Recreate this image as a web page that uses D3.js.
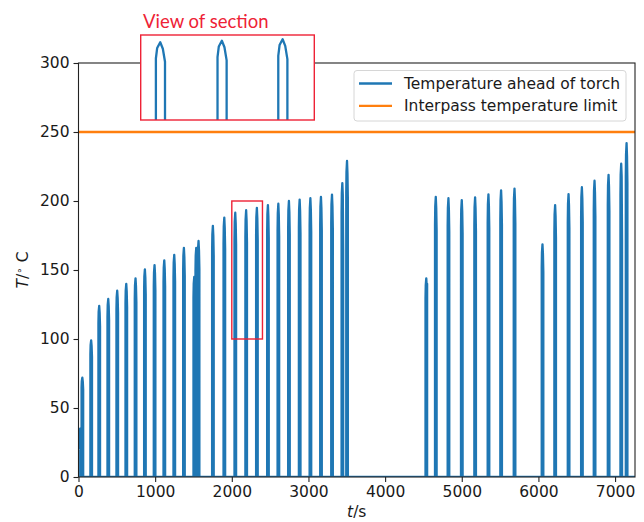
<!DOCTYPE html>
<html>
<head>
<meta charset="utf-8">
<script src="https://cdn.jsdelivr.net/npm/d3@7"></script>
<style>
  body { margin: 0; background: #fff; }
  svg { display: block; }
  text { font-family: "DejaVu Sans", sans-serif; }
</style>
</head>
<body>
<svg id="chart" width="644" height="522"></svg>
<script>
// start time of each temperature spike (s), its peak and the value just before it drops
const spikeStart = [40, 155, 260, 378, 495, 613, 734, 856, 982, 1109, 1239, 1365,
  1500, 1526, 1556, 1743, 1892, 2035, 2177, 2317, 2461, 2597, 2735, 2875, 3015,
  3153, 3297, 3432, 3493, 4527, 4651, 4816, 4990, 5164, 5338, 5503, 5678, 6043,
  6208, 6383, 6557, 6722, 6905, 7070, 7140];
const spikePeak = [72, 99, 124, 129, 135, 140, 144, 150.5, 153.5, 157, 161, 166,
  145, 166, 171, 182, 188, 191.5, 193.3, 195, 197, 198, 200, 201, 202,
  203, 204.6, 213, 229, 144, 203, 202, 200.7, 202.6, 204.8, 207.7, 209, 168.6,
  197, 205, 210, 214.7, 219, 227, 242];
// tails that differ from the usual shape (index -> temperature)
const spikeTail = { 12: 128, 27: 165, 29: 140, 43: 172 };

const shapeDt = [0, 0, 3, 10, 16, 21, 21];
const shapeFrac = [0, 0.90, 0.965, 1, 0.96, 0.88, 0];

// first readings right at the start
const startPts = [[8, 20], [14, 21], [21, 35], [23, 30], [23, 0]];
const endTime = 7260;

const interpassLimit = 250;
const xTicks = [0, 1000, 2000, 3000, 4000, 5000, 6000, 7000];
const yTicks = [0, 50, 100, 150, 200, 250, 300];

// build the series
const series = startPts.map(d => ({ t: d[0], T: d[1] }));
spikeStart.forEach((t0, i) => {
  shapeDt.forEach((dt, k) => {
    let v = spikePeak[i] * shapeFrac[k];
    if (k === 5 && spikeTail[i] !== undefined) v = spikeTail[i];
    series.push({ t: t0 + dt, T: v });
  });
});
series.push({ t: endTime, T: 0 });

const svg = d3.select("#chart");
const pL = 78.5, pR = 635, pT = 63, pB = 477;
const fs = "15.5px";

const x = d3.scaleLinear().domain([0, endTime]).range([pL, pR]);
const y = d3.scaleLinear().domain([0, 300]).range([pB, pT]);

const defs = svg.append("defs");
defs.append("clipPath").attr("id", "clip")
  .append("rect").attr("x", pL).attr("y", pT)
  .attr("width", pR - pL).attr("height", pB - pT);

const line = d3.line().x(d => x(d.t)).y(d => y(d.T));

svg.append("path")
  .datum(series)
  .attr("clip-path", "url(#clip)")
  .attr("fill", "none")
  .attr("stroke", "#1f77b4")
  .attr("stroke-width", 2.3)
  .attr("stroke-linejoin", "round")
  .attr("d", line);

svg.append("line")
  .attr("clip-path", "url(#clip)")
  .attr("x1", pL).attr("x2", pR)
  .attr("y1", y(interpassLimit)).attr("y2", y(interpassLimit))
  .attr("stroke", "#ff7f0e").attr("stroke-width", 2.3);

// axes
const xAxis = svg.append("g")
  .attr("transform", `translate(0,${pB})`)
  .call(d3.axisBottom(x).tickValues(xTicks).tickFormat(d3.format("d")).tickSize(5).tickPadding(4));
const yAxis = svg.append("g")
  .attr("transform", `translate(${pL},0)`)
  .call(d3.axisLeft(y).tickValues(yTicks).tickFormat(d3.format("d")).tickSize(5).tickPadding(4));
[xAxis, yAxis].forEach(g => {
  g.select(".domain").remove();
  g.selectAll(".tick line").attr("stroke", "#222").attr("stroke-width", 1.1);
  g.selectAll(".tick text").attr("fill", "#1a1a1a").style("font-size", fs)
    .style("font-family", "DejaVu Sans");
});

// frame
svg.append("rect")
  .attr("x", pL).attr("y", pT)
  .attr("width", pR - pL).attr("height", pB - pT)
  .attr("fill", "none").attr("stroke", "#222").attr("stroke-width", 1.1);

// axis labels
const xl = svg.append("text").attr("x", (pL + pR) / 2).attr("y", 517)
  .attr("text-anchor", "middle").style("font-size", fs).attr("fill", "#1a1a1a");
xl.append("tspan").style("font-style", "italic").text("t");
xl.append("tspan").text("/s");

const yl = svg.append("text")
  .attr("transform", "translate(28,270) rotate(-90)")
  .attr("text-anchor", "middle").style("font-size", fs).attr("fill", "#1a1a1a");
yl.append("tspan").style("font-style", "italic").text("T");
yl.append("tspan").text("/");
yl.append("tspan").attr("dy", -5).style("font-size", "10.5px").text("∘");
yl.append("tspan").attr("dy", 5).text(" C");

// legend
const legend = svg.append("g");
legend.append("rect")
  .attr("x", 354).attr("y", 70.5).attr("width", 272).attr("height", 50.5)
  .attr("rx", 3).attr("fill", "#fff").attr("fill-opacity", 0.8)
  .attr("stroke", "#d6d6d6").attr("stroke-width", 1);
const legendItems = [
  { label: "Temperature ahead of torch", color: "#1f77b4" },
  { label: "Interpass temperature limit", color: "#ff7f0e" }
];
legendItems.forEach((d, i) => {
  const cy = 83.5 + i * 22.3;
  legend.append("line").attr("x1", 359).attr("x2", 392)
    .attr("y1", cy).attr("y2", cy).attr("stroke", d.color).attr("stroke-width", 2.3);
  legend.append("text").attr("x", 404).attr("y", cy + 5.5)
    .style("font-size", fs).attr("fill", "#1a1a1a").text(d.label);
});

// red box marking the magnified section
const secT = [2000, 2400], secV = [100, 200];
const red = "#ee2236";
svg.append("rect")
  .attr("x", x(secT[0])).attr("y", y(secV[1]))
  .attr("width", x(secT[1]) - x(secT[0])).attr("height", y(secV[0]) - y(secV[1]))
  .attr("fill", "none").attr("stroke", red).attr("stroke-width", 1.4);

// inset view of the section
const ix = d3.scaleLinear().domain(secT).range([140.7, 314.3]);
const iy = d3.scaleLinear().domain(secV).range([120, 35]);
defs.append("clipPath").attr("id", "clipInset")
  .append("rect").attr("x", 140.7).attr("y", 35).attr("width", 173.6).attr("height", 85);
svg.append("rect").attr("x", 140.7).attr("y", 35).attr("width", 173.6).attr("height", 85)
  .attr("fill", "#fff");
svg.append("path")
  .datum(series)
  .attr("clip-path", "url(#clipInset)")
  .attr("fill", "none")
  .attr("stroke", "#1f77b4")
  .attr("stroke-width", 2.3)
  .attr("stroke-linejoin", "round")
  .attr("d", d3.line().x(d => ix(d.t)).y(d => iy(d.T)));
svg.append("rect").attr("x", 140.7).attr("y", 35).attr("width", 173.6).attr("height", 85)
  .attr("fill", "none").attr("stroke", red).attr("stroke-width", 1.4);

svg.append("text").attr("x", 143).attr("y", 28)
  .style("font-family", "Lato, sans-serif").style("font-size", "18.5px")
  .attr("fill", red).text("View of section");
</script>
</body>
</html>
